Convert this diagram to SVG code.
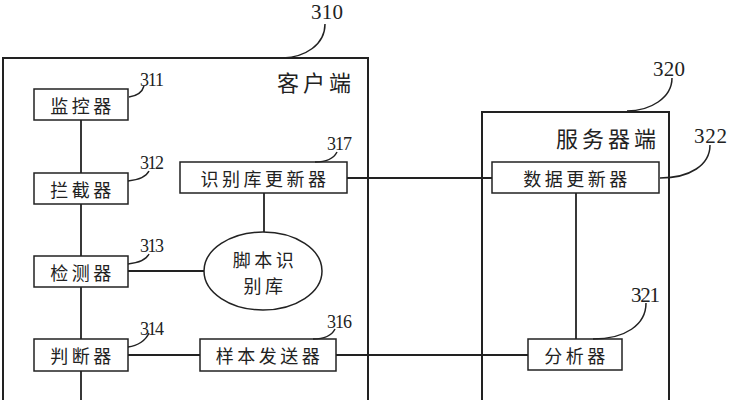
<svg xmlns="http://www.w3.org/2000/svg" width="729" height="400" viewBox="0 0 729 400">
<style>
.box{fill:#fff;stroke:#222;stroke-width:1.5}
.frame{fill:none;stroke:#222;stroke-width:2}
.ln{fill:none;stroke:#222;stroke-width:1.8}
.ld{fill:none;stroke:#222;stroke-width:1.5}
.t{font-family:"Noto Sans CJK SC","Noto Sans",sans-serif;font-size:18px;fill:#222;text-anchor:middle;dominant-baseline:central;letter-spacing:3.5px}
.big{font-size:22px;letter-spacing:4px}
.n{font-family:"Liberation Serif",serif;font-size:18px;fill:#222}
.nb{font-size:21px}
</style>
<rect width="729" height="400" fill="#fff"/>
<g id="connectors">
<line class="ln" x1="81" y1="120" x2="81" y2="400"/>
<line class="ln" x1="128" y1="271" x2="204" y2="271"/>
<line class="ln" x1="264" y1="193" x2="264" y2="232"/>
<line class="ln" x1="128" y1="355" x2="200" y2="355"/>
<line class="ln" x1="347" y1="178" x2="492" y2="178"/>
<line class="ln" x1="336" y1="355" x2="528" y2="355"/>
<line class="ln" x1="576" y1="193" x2="576" y2="339"/>
</g>
<g id="client">
<rect class="frame" x="3" y="58" width="365" height="350"/>
<text class="t big" x="316" y="81">客户端</text>
<path class="ld" d="M325,24 C325,45 305,57 283,58"/>
<text class="n nb" x="311" y="19" textLength="32">310</text>
</g>
<g id="server">
<rect class="frame" x="482" y="112" width="187" height="296"/>
<text class="t big" x="608" y="137">服务器端</text>
<path class="ld" d="M672,78 C672,98 650,111 627,111"/>
<text class="n nb" x="653" y="76" textLength="32">320</text>
</g>
<g id="n311">
<rect class="box" x="34" y="89" width="94" height="31"/>
<text class="t" x="82.5" y="104.5">监控器</text>
<path class="ld" d="M144,86 C142,93 136,96 129,97"/>
<text class="n" x="140" y="86" textLength="24">311</text>
</g>
<g id="n312">
<rect class="box" x="34" y="173" width="94" height="31"/>
<text class="t" x="82.5" y="188.5">拦截器</text>
<path class="ld" d="M149,171 C146,177 138,180 128,181"/>
<text class="n" x="140" y="169" textLength="24">312</text>
</g>
<g id="n313">
<rect class="box" x="34" y="256" width="94" height="31"/>
<text class="t" x="82.5" y="271.5">检测器</text>
<path class="ld" d="M149,254 C146,260 138,263 128,264"/>
<text class="n" x="140" y="252" textLength="24">313</text>
</g>
<g id="n314">
<rect class="box" x="34" y="339" width="94" height="32"/>
<text class="t" x="82.5" y="355">判断器</text>
<path class="ld" d="M149,333 C146,340 138,346 128,347"/>
<text class="n" x="140" y="335" textLength="24">314</text>
</g>
<g id="n316">
<rect class="box" x="200" y="339" width="136" height="32"/>
<text class="t" x="269.5" y="355">样本发送器</text>
<path class="ld" d="M335,329 C332,335 324,339 313,339"/>
<text class="n" x="327" y="328" textLength="25">316</text>
</g>
<g id="n317">
<rect class="box" x="180" y="162" width="167" height="31"/>
<text class="t" x="265" y="177.5">识别库更新器</text>
<path class="ld" d="M337,152 C334,158 326,162 315,162"/>
<text class="n" x="327" y="150" textLength="25">317</text>
</g>
<g id="n315">
<ellipse class="box" cx="263" cy="271" rx="59" ry="39"/>
<text class="t" x="265" y="259">脚本识</text>
<text class="t" x="265" y="285">别库</text>
</g>
<g id="n322">
<rect class="box" x="492" y="162" width="167" height="31"/>
<text class="t" x="577" y="177.5">数据更新器</text>
<path class="ld" d="M710,145 C710,165 690,178 660,178"/>
<text class="n nb" x="694" y="143" textLength="33">322</text>
</g>
<g id="n321">
<rect class="box" x="528" y="339" width="94" height="31"/>
<text class="t" x="576.5" y="354.5">分析器</text>
<path class="ld" d="M646,303 C646,325 625,339 593,339"/>
<text class="n nb" x="631" y="302" textLength="29">321</text>
</g>
</svg>
